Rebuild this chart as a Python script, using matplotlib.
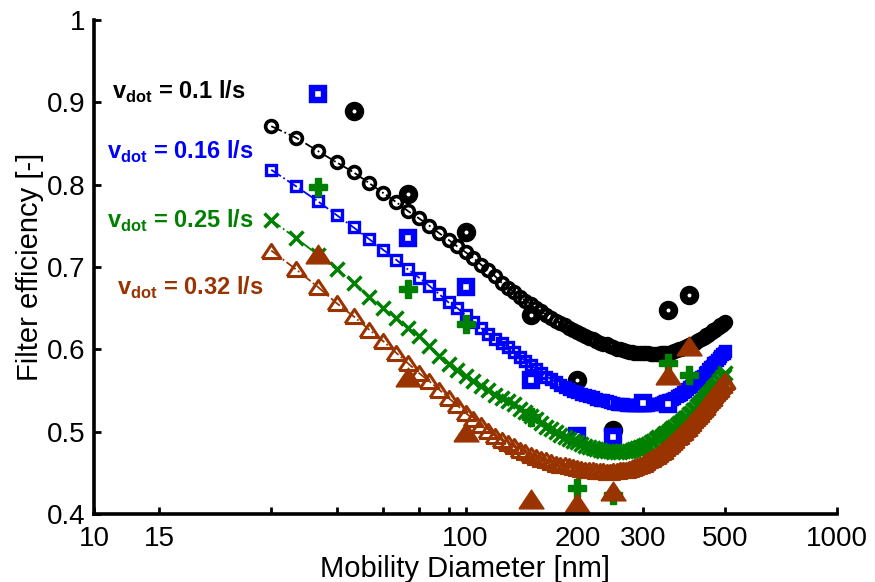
import matplotlib
matplotlib.use("Agg")
import matplotlib.pyplot as plt

plt.rcParams["font.family"] = ["Liberation Sans", "DejaVu Sans"]
plt.rcParams["mathtext.fontset"] = "custom"
plt.rcParams["mathtext.rm"] = "Liberation Sans"
plt.rcParams["mathtext.bf"] = "Liberation Sans:bold"

# model grid, mobility diameter in nm
MODEL_D = list(range(30, 505, 5))

MODEL_010 = [
    .871, .857, .841, .827, .815, .802, .790, .779, .768, .759,
    .750, .741, .733, .725, .718, .711, .703, .696, .689, .681,
    .675, .670, .664, .659, .655, .650, .646, .642, .638, .635,
    .632, .629, .626, .624, .621, .619, .616, .614, .612, .610,
    .608, .607, .606, .604, .603, .601, .600, .599, .598, .597,
    .597, .596, .596, .595, .595, .595, .595, .594, .594, .594,
    .594, .595, .595, .595, .596, .596, .597, .598, .599, .600,
    .601, .602, .603, .604, .605, .606, .607, .608, .610, .611,
    .612, .614, .615, .617, .618, .620, .621, .623, .624, .626,
    .627, .629, .630, .632, .633,
]
MODEL_016 = [
    .818, .798, .780, .763, .748, .734, .721, .709, .697, .687,
    .677, .667, .657, .650, .642, .633, .626, .619, .613, .608,
    .603, .597, .591, .586, .581, .576, .571, .567, .564, .560,
    .557, .554, .552, .549, .548, .546, .545, .543, .542, .540,
    .539, .538, .537, .536, .535, .534, .533, .533, .532, .532,
    .532, .532, .532, .532, .532, .532, .532, .533, .533, .533,
    .534, .535, .536, .537, .538, .539, .540, .541, .543, .544,
    .546, .548, .550, .552, .554, .556, .558, .560, .562, .564,
    .566, .568, .571, .573, .576, .578, .580, .583, .585, .587,
    .590, .592, .594, .596, .598,
]
MODEL_025 = [
    .757, .735, .715, .697, .681, .664, .650, .638, .626, .616,
    .604, .592, .582, .575, .568, .562, .556, .551, .545, .541,
    .537, .533, .528, .524, .519, .515, .510, .506, .503, .499,
    .496, .494, .491, .489, .487, .485, .483, .481, .480, .479,
    .478, .477, .476, .476, .475, .475, .475, .476, .476, .477,
    .478, .479, .480, .481, .482, .484, .485, .487, .489, .491,
    .493, .494, .496, .498, .500, .502, .504, .506, .508, .510,
    .512, .514, .516, .518, .521, .523, .526, .528, .531, .533,
    .536, .538, .541, .543, .546, .548, .551, .553, .556, .558,
    .561, .563, .566, .568, .571,
]
MODEL_032 = [
    .720, .697, .676, .656, .640, .624, .610, .596, .583, .571,
    .561, .551, .541, .532, .523, .515, .508, .501, .495, .490,
    .486, .482, .478, .475, .472, .469, .467, .465, .463, .461,
    .460, .459, .458, .457, .456, .455, .454, .454, .453, .452,
    .452, .452, .451, .451, .452, .452, .453, .453, .454, .455,
    .456, .457, .458, .460, .461, .463, .465, .467, .469, .471,
    .473, .475, .477, .480, .482, .485, .487, .490, .493, .495,
    .498, .500, .503, .505, .508, .511, .514, .516, .519, .522,
    .525, .527, .530, .533, .536, .538, .541, .544, .547, .549,
    .552, .555, .557, .560, .562,
]

# measurements
EXP_D_010 = [50, 70, 100, 150, 200, 250, 350, 400]
EXP_010 = [0.890, 0.789, 0.743, 0.642, 0.563, 0.502, 0.648, 0.666]
EXP_D_016 = [40, 70, 100, 150, 200, 250, 300, 350]
EXP_016 = [0.910, 0.735, 0.676, 0.563, 0.495, 0.493, 0.535, 0.533]
EXP_D_025 = [40, 70, 100, 150, 200, 250, 350, 400]
EXP_025 = [0.797, 0.673, 0.631, 0.518, 0.432, 0.423, 0.583, 0.569]
EXP_D_032 = [40, 70, 100, 150, 200, 250, 350, 400]
EXP_032 = [0.716, 0.567, 0.500, 0.418, 0.413, 0.428, 0.569, 0.604]

LABELS = ["0.1", "0.16", "0.25", "0.32"]
X_TICKS = [10, 15, 30, 45, 60, 75, 90, 100, 200, 300, 500, 1000]
X_TICK_LABELS = ["10", "15", "", "", "", "", "", "100", "200", "300", "500", "1000"]
Y_TICKS = [0.4, 0.5, 0.6, 0.7, 0.8, 0.9, 1.0]
Y_TICK_LABELS = ["0.4", "0.5", "0.6", "0.7", "0.8", "0.9", "1"]

BROWN = "#993300"
GREEN = "#008000"
BLUE = "#0000ff"
# wide triangle like the matlab one, closed so the outline is complete
WIDE_TRI = [(-1, -0.75), (1, -0.75), (0, 0.75), (-1, -0.75)]

fig = plt.figure(figsize=(8.75, 5.82), dpi=100)
ax = fig.add_axes([94 / 875, 68 / 582, 743 / 875, 494 / 582])

# black, 0.1 l/s
ax.plot(MODEL_D, MODEL_010, "-.", color="k", lw=1.3, marker="o", ms=8.5,
        mfc="none", mew=2.6)
ax.plot(EXP_D_010, EXP_010, ls="none", marker="o", ms=8.5, mfc="white",
        mec="k", mew=5.5)
# blue, 0.16 l/s
ax.plot(MODEL_D, MODEL_016, "-.", color=BLUE, lw=1.3, marker="s", ms=7.8,
        mfc="none", mew=2.4)
ax.plot(EXP_D_016, EXP_016, ls="none", marker="s", ms=8, mfc="white",
        mec=BLUE, mew=4.6)
# green, 0.25 l/s
ax.plot(MODEL_D, MODEL_025, "-.", color=GREEN, lw=1.3, marker="x", ms=10,
        mew=2.5)
ax.plot(EXP_D_025, EXP_025, ls="none", marker="P", ms=12.5, color=GREEN,
        mew=1)
# brown, 0.32 l/s
ax.plot(MODEL_D, MODEL_032, "-.", color=BROWN, lw=1.3, marker=WIDE_TRI,
        ms=13.5, mfc="none", mew=2.2)
ax.plot(EXP_D_032, EXP_032, ls="none", marker=WIDE_TRI, ms=18, color=BROWN)

# flow rate labels
for txt, xx, yy, c in zip(LABELS, [11.2, 10.85, 10.85, 11.5],
                          [0.904, 0.8315, 0.748, 0.666],
                          ["k", BLUE, GREEN, BROWN]):
    ax.text(xx, yy, r"v$_{\mathbf{dot}}$ = " + txt + " l/s", color=c,
            fontsize=17, fontweight="bold", ha="left", va="baseline")

ax.set_xscale("log")
ax.set_xlim(10, 1000)
ax.set_ylim(0.4, 1.0)
ax.set_xticks(X_TICKS)
ax.set_xticklabels(X_TICK_LABELS)
ax.xaxis.set_minor_locator(matplotlib.ticker.NullLocator())
ax.set_yticks(Y_TICKS)
ax.set_yticklabels(Y_TICK_LABELS)
ax.tick_params(direction="in", length=5, width=2, labelsize=20)
ax.tick_params(axis="x", pad=9)
ax.tick_params(axis="y", pad=6)

for side in ["top", "right"]:
    ax.spines[side].set_visible(False)
for side in ["left", "bottom"]:
    ax.spines[side].set_linewidth(2.6)

ax.set_xlabel("Mobility Diameter [nm]", fontsize=21, labelpad=2)
ax.set_ylabel("Filter efficiency [-]", fontsize=21, labelpad=2)

fig.savefig("out.png", dpi=100)
